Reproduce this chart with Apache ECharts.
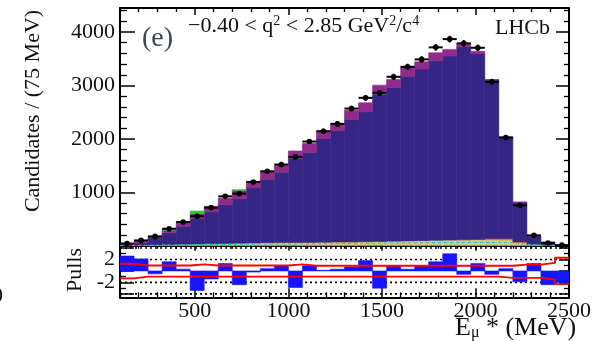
<!DOCTYPE html>
<html><head><meta charset="utf-8">
<script src="https://cdn.jsdelivr.net/npm/echarts@6/dist/echarts.min.js"></script>
<style>html,body{margin:0;padding:0;background:#fff}#c{width:593px;height:341px}</style>
</head><body><div id="c"></div>
<script>
// ---- data ----
const binStart = 100, binWidth = 75;          // E_mu* bins, MeV
const dataCounts = [40, 99, 174, 317, 443, 550, 712, 924, 975, 1193, 1393, 1519, 1662, 1950, 2143, 2280,
                    2568, 2768, 2862, 3162, 3349, 3488, 3713, 3868, 3788, 3705, 3068, 2025, 756, 193, 49, 10];
const totalTop   = [20, 86, 175, 290, 424, 600, 737, 890, 1037, 1205, 1380, 1500, 1774, 1915, 2149, 2290,
                    2537, 2674, 3006, 3112, 3349, 3443, 3611, 3675, 3790, 3640, 3110, 2036, 818, 178, 68, 20];
const signalTop  = [15, 49, 145, 241, 362, 506, 630, 766, 881, 1080, 1241, 1374, 1631, 1742, 2006, 2155,
                    2362, 2505, 2837, 2962, 3174, 3306, 3462, 3550, 3724, 3600, 3100, 2030, 812, 173, 64, 18];
const greenBand  = [0, 0, 0, 26, 0, 49, 0, 0, 10, 0, 0, 0, 0, 0, 0, 0, 0, 0, 0, 0, 0, 0, 0, 0, 0, 0, 0, 0, 0, 0, 0, 0];
const khakiBand  = [6, 10, 15, 20, 25, 30, 35, 40, 45, 50, 55, 58, 60, 62, 65, 68, 70, 75, 80, 85, 90, 95,
                    100, 105, 110, 115, 115, 110, 60, 25, 8, 2];
const orangeBand = [0, 0, 0, 0, 0, 0, 0, 0, 0, 0, 0, 0, 0, 0, 0, 0, 0, 0, 0, 0, 0, 0, 0, 0, 0, 0, 15, 20, 10, 0, 0, 0];
const cyanLevel  = [5, 8, 12, 15, 18, 20, 22, 25, 28, 30, 32, 34, 36, 38, 40, 42, 44, 46, 48, 50, 52, 54,
                    56, 58, 60, 62, 60, 55, 30, 12, 4, 1];
const pulls      = [2.6, 2.1, -0.5, 1.6, 0.3, -3.4, -1.4, 1.3, -2.4, -0.2, 0.4, 0.9, -2.9, 0.9, 0.1, 0.3,
                    0.7, 1.8, -3.0, 0.8, 0.3, 0.8, 1.6, 3.0, -0.6, 1.3, -0.6, 0.4, -1.9, 1.3, -2.4, -2.0];
const bandUpper  = [1.25, 0.95, 0.95, 0.95, 0.95, 1.15, 0.95, 0.95, 0.95, 0.95, 0.95, 0.95, 1.15, 0.9, 0.9, 0.9,
                    0.9, 0.9, 0.9, 0.9, 0.9, 0.9, 0.9, 0.9, 0.9, 0.9, 0.9, 0.9, 1.1, 1.1, 1.4, 2.3];
const bandLower  = [-1.3, -1.0, -1.0, -1.0, -1.0, -1.0, -1.0, -1.0, -1.0, -1.0, -1.0, -1.0, -1.0, -1.0, -1.0, -1.0,
                    -1.0, -1.0, -1.0, -1.0, -1.0, -1.0, -1.0, -1.0, -1.0, -1.0, -1.0, -1.2, -1.2, -1.2, -1.5, -2.3];
const xTickLabels = [500, 1000, 1500, 2000, 2500];
const yTickLabels = [1000, 2000, 3000, 4000];
const pullTickLabels = [-2, 2];
const pullRefLines = [-4, -2, 2, 4];

// ---- helpers ----
const FONT = '"Liberation Serif","DejaVu Serif",serif';
const xMin = 100, xMax = 2500, yMax = 4450, pMin = -4.6, pMax = 4.4;
function range(a, b, s) { const r = []; for (let v = a; v <= b + 1e-9; v += s) r.push(+v.toFixed(6)); return r; }
const xMajor = xTickLabels, xMinor = range(100, 2500, 100).filter(v => v % 500 !== 0);
const yMajor = [0, 1000, 2000, 3000, 4000], yMinor = range(200, 4400, 200).filter(v => v % 1000 !== 0);
const pMajor = [-4, -2, 0, 2, 4], pMinor = [-3, -1, 1, 3];
const plain = v => String(v);

function mkAxes(grid, pos, min, max, major, minor, majLen, minLen, labelVals, labelStyle) {
  const a = {type: 'value', gridIndex: grid, position: pos, min, max,
    axisLine: {show: true, onZero: false, lineStyle: {color: '#000', width: 2}},
    axisTick: {show: true, inside: true, length: majLen, customValues: major, lineStyle: {color: '#000', width: 1.5}},
    axisLabel: labelVals ? Object.assign({show: true, customValues: labelVals, formatter: plain}, labelStyle) : {show: false},
    splitLine: {show: false}};
  const b = {type: 'value', gridIndex: grid, position: pos, min, max,
    axisLine: {show: false, onZero: false},
    axisTick: {show: true, inside: true, length: minLen, customValues: minor, lineStyle: {color: '#000', width: 1.3}},
    axisLabel: {show: false}, splitLine: {show: false}};
  return [a, b];
}
const lblStyle = {fontFamily: FONT, fontSize: 22, color: '#111'};

const xAxis = [].concat(
  mkAxes(0, 'bottom', xMin, xMax, xMajor, xMinor, 8, 4),
  mkAxes(0, 'top', xMin, xMax, xMajor, xMinor, 7, 4),
  mkAxes(1, 'bottom', xMin, xMax, xMajor, xMinor, 9, 5, xTickLabels, Object.assign({margin: 3}, lblStyle)),
  mkAxes(1, 'top', xMin, xMax, xMajor, xMinor, 5, 3)
);
const yAxis = [].concat(
  mkAxes(0, 'left', 0, yMax, yMajor, yMinor, 15, 7, yTickLabels, Object.assign({margin: 5, padding: [4, 0, 0, 0]}, lblStyle)),
  mkAxes(0, 'right', 0, yMax, yMajor, yMinor, 13, 5),
  mkAxes(1, 'left', pMin, pMax, pMajor, pMinor, 14, 6, pullTickLabels,
         Object.assign({margin: 5, padding: [6, 0, 0, 0]}, lblStyle)),
  mkAxes(1, 'right', pMin, pMax, pMajor, pMinor, 10, 5)
);

function binLo(i) { return binStart + i * binWidth; }
function rectSeries(name, rows, color, xi, yi, z) {
  return {type: 'custom', name, xAxisIndex: xi, yAxisIndex: yi, z, clip: true, silent: true,
    encode: {x: [0, 1], y: [2, 3]}, data: rows,
    renderItem: function (params, api) {
      const x0 = api.value(0), x1 = api.value(1), a = api.value(2), b = api.value(3);
      const p0 = api.coord([x0, Math.max(a, b)]), p1 = api.coord([x1, Math.min(a, b)]);
      return {type: 'rect', shape: {x: p0[0], y: p0[1], width: p1[0] - p0[0], height: p1[1] - p0[1]},
              style: {fill: color, stroke: color, lineWidth: 0.6}};
    }};
}
function stepPoints(vals) {
  const pts = [];
  vals.forEach((v, i) => { pts.push([binLo(i), v]); pts.push([binLo(i) + binWidth, v]); });
  return pts;
}

// stacked components
const khakiRows = [], orangeRows = [], signalRows = [], purpleRows = [], greenRows = [];
for (let i = 0; i < dataCounts.length; i++) {
  const lo = binLo(i), hi = lo + binWidth;
  const k = khakiBand[i], o = k + orangeBand[i];
  khakiRows.push([lo, hi, 0, k]);
  if (orangeBand[i] > 0) orangeRows.push([lo, hi, k, o]);
  signalRows.push([lo, hi, o, signalTop[i]]);
  purpleRows.push([lo, hi, signalTop[i], totalTop[i]]);
  if (greenBand[i] > 0) greenRows.push([lo, hi, totalTop[i], totalTop[i] + greenBand[i]]);
}
const pullRows = pulls.map((p, i) => [binLo(i), binLo(i) + binWidth, 0, p]);
const pointRows = dataCounts.map((c, i) => [binLo(i) + binWidth / 2, c]);

const series = [
  rectSeries('khaki', khakiRows, '#d8c67c', 0, 0, 2),
  rectSeries('orange', orangeRows, '#f07820', 0, 0, 2),
  rectSeries('signal', signalRows, '#352585', 0, 0, 2),
  rectSeries('purple', purpleRows, '#902b8b', 0, 0, 2),
  rectSeries('green', greenRows, '#2ec830', 0, 0, 2),
  {type: 'line', xAxisIndex: 0, yAxisIndex: 0, z: 3, data: stepPoints(cyanLevel), showSymbol: false, silent: true,
   lineStyle: {color: '#14c8d2', width: 1, type: [3, 3]}},
  {type: 'custom', name: 'data', xAxisIndex: 0, yAxisIndex: 0, z: 5, silent: true, data: pointRows,
   encode: {x: 0, y: 1},
   renderItem: function (params, api) {
     const x = api.value(0), y = api.value(1), e = Math.sqrt(y);
     const c = api.coord([x, y]), l = api.coord([x - binWidth / 2, y]), r = api.coord([x + binWidth / 2, y]);
     const t = api.coord([x, y + e]), b = api.coord([x, Math.max(0, y - e)]);
     return {type: 'group', children: [
       {type: 'line', shape: {x1: l[0], y1: l[1], x2: r[0], y2: r[1]}, style: {stroke: '#000', lineWidth: 2}},
       {type: 'line', shape: {x1: t[0], y1: t[1], x2: b[0], y2: b[1]}, style: {stroke: '#000', lineWidth: 2}},
       {type: 'circle', shape: {cx: c[0], cy: c[1], r: 2.8}, style: {fill: '#000'}}
     ]};
   }}
];
pullRefLines.forEach(v => series.push({type: 'line', xAxisIndex: 4, yAxisIndex: 4, z: 1, silent: true, showSymbol: false,
  data: [[xMin, v], [xMax, v]], lineStyle: {color: '#000', width: 1.6, type: [2, 3]}}));
series.push(rectSeries('pulls', pullRows, '#1414ff', 4, 4, 2));
series.push({type: 'line', xAxisIndex: 4, yAxisIndex: 4, z: 3, silent: true, showSymbol: false,
  data: stepPoints(bandUpper), lineStyle: {color: '#ff0000', width: 1.8}});
series.push({type: 'line', xAxisIndex: 4, yAxisIndex: 4, z: 3, silent: true, showSymbol: false,
  data: stepPoints(bandLower), lineStyle: {color: '#ff0000', width: 1.8}});

const f = s => s + 'px ' + FONT;
const chart = echarts.init(document.getElementById('c'), null, {renderer: 'canvas'});
chart.setOption({
  animation: false,
  backgroundColor: '#fff',
  grid: [
    {left: 120, top: 8, width: 449, height: 237.7, containLabel: false, outerBoundsMode: 'none'},
    {left: 120, top: 245.7, width: 449, height: 51.6, containLabel: false, outerBoundsMode: 'none'}
  ],
  xAxis, yAxis, series,
  graphic: [
    {type: 'text', x: 142, y: 39, z: 10, style: {text: '(e)', font: f(28), fill: '#3d4656', verticalAlign: 'middle'}},
    {type: 'text', x: 188, y: 26, z: 10, style: {
      text: '{a|\u22120.40 < q}{s|2}{a| < 2.85 GeV}{s|2}{a|/c}{s|4}',
      verticalAlign: 'middle', fill: '#111', font: f(22),
      rich: {a: {font: f(22), fontSize: 22, fontFamily: FONT, lineHeight: 24, fill: '#111'},
             s: {font: f(14), fontSize: 14, fontFamily: FONT, lineHeight: 14, verticalAlign: 'top', fill: '#111'}}}},
    {type: 'text', x: 550, y: 28, z: 10, style: {text: 'LHCb', font: f(22), fill: '#111', align: 'right', verticalAlign: 'middle'}},
    {type: 'text', x: 33, y: 111, rotation: Math.PI / 2, z: 10,
     style: {text: 'Candidates / (75 MeV)', font: f(22), fill: '#111', align: 'center', verticalAlign: 'middle'}},
    {type: 'text', x: 75, y: 270, rotation: Math.PI / 2, z: 10,
     style: {text: 'Pulls', font: f(22), fill: '#111', align: 'center', verticalAlign: 'middle'}},
    {type: 'text', x: 455, y: 328, z: 10, style: {
      text: '{a|E}{b|\u03bc}{a| * (MeV)}', verticalAlign: 'middle', fill: '#111', font: f(26),
      rich: {a: {font: f(26), fontSize: 26, fontFamily: FONT, lineHeight: 26, fill: '#111'},
             b: {font: f(16), fontSize: 16, fontFamily: FONT, lineHeight: 16, verticalAlign: 'bottom', fill: '#111'}}}},
    {type: 'text', x: -8, y: 296, z: 10, style: {text: '0', font: f(22), fill: '#111', verticalAlign: 'middle'}}
  ]
});
</script></body></html>
